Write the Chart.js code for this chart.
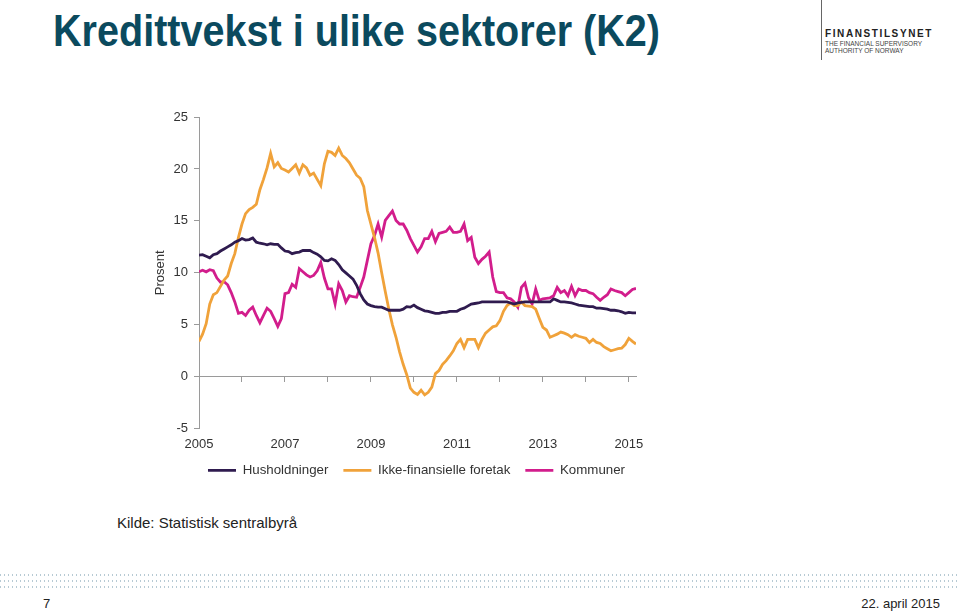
<!DOCTYPE html>
<html>
<head>
<meta charset="utf-8">
<script src="https://cdn.jsdelivr.net/npm/chart.js@4.4.1/dist/chart.umd.min.js"></script>
<style>
html,body{margin:0;padding:0;background:#fff;}
body{width:960px;height:611px;overflow:hidden;position:relative;font-family:"Liberation Sans",Arial,sans-serif;}
#title{position:absolute;left:53px;top:8px;font-size:45px;line-height:45px;font-weight:bold;color:#0b4a5e;white-space:nowrap;transform-origin:0 0;}
#logoLine{position:absolute;left:821px;top:0;width:1px;height:60px;background:#666;}
#logoName{position:absolute;left:825px;top:29px;font-size:10px;line-height:10px;font-weight:bold;letter-spacing:1.6px;color:#222;white-space:nowrap;}
#logoSub{position:absolute;left:825px;top:41px;font-size:6.5px;line-height:6.7px;color:#444;white-space:nowrap;}
#wrap{position:absolute;left:140px;top:100px;width:553px;height:387px;}
#source{position:absolute;left:117px;top:515px;font-size:15px;line-height:15px;color:#222;white-space:nowrap;}
.dots{position:absolute;left:0;width:960px;height:2px;background-image:linear-gradient(to right,#b7cad4 1.5px,transparent 1.5px);background-size:4px 2px;}
#page{position:absolute;left:43px;top:597px;font-size:13px;line-height:13px;color:#222;}
#date{position:absolute;right:20px;top:597px;font-size:13px;line-height:13px;color:#222;white-space:nowrap;}
</style>
</head>
<body>
<div id="title">Kredittvekst i ulike sektorer (K2)</div>
<div id="logoLine"></div>
<div id="logoName">FINANSTILSYNET</div>
<div id="logoSub">THE FINANCIAL SUPERVISORY<br>AUTHORITY OF NORWAY</div>
<div id="wrap"><canvas id="c"></canvas></div>
<div id="source">Kilde: Statistisk sentralbyrå</div>
<div class="dots" style="top:574px"></div>
<div class="dots" style="top:580px"></div>
<div class="dots" style="top:586px"></div>
<div id="page">7</div>
<div id="date">22. april 2015</div>
<script>
// Monthly data, Jan 2005 – Mar 2015
const startYear = 2005;
const seriesNames = ["Husholdninger", "Ikke-finansielle foretak", "Kommuner"];

const husholdninger = [
  11.7, 11.75, 11.6, 11.45, 11.75, 11.85, 12.1, 12.3, 12.5, 12.7, 12.95, 13.1,
  13.3, 13.15, 13.2, 13.35, 12.95, 12.85, 12.8, 12.7, 12.8, 12.75, 12.75, 12.4,
  12.1, 12.05, 11.85, 11.95, 12.0, 12.15, 12.15, 12.15, 11.95, 11.8, 11.55, 11.2,
  11.15, 11.35, 11.2, 10.8, 10.3, 10.0, 9.7, 9.4, 8.8, 8.0, 7.4, 7.0,
  6.85, 6.75, 6.7, 6.7, 6.55, 6.4, 6.4, 6.4, 6.4, 6.5, 6.75, 6.7,
  6.9, 6.65, 6.5, 6.35, 6.3, 6.2, 6.1, 6.1, 6.2, 6.2, 6.3, 6.3,
  6.3, 6.5, 6.6, 6.8, 7.0, 7.05, 7.1, 7.2, 7.2, 7.2, 7.2, 7.2,
  7.2, 7.2, 7.2, 7.1, 7.0, 7.1, 7.15, 7.2, 7.2, 7.2, 7.2, 7.2,
  7.2, 7.2, 7.2, 7.5, 7.35, 7.2, 7.2, 7.15, 7.1, 7.0, 6.9, 6.85,
  6.8, 6.75, 6.75, 6.6, 6.6, 6.55, 6.5, 6.4, 6.4, 6.35, 6.25, 6.1,
  6.2, 6.15, 6.15
];

const ikkeFinansielle = [
  3.4, 4.1, 5.1, 7.0, 7.9, 8.1, 8.7, 9.3, 9.7, 10.9, 11.85, 13.4,
  14.7, 15.7, 16.1, 16.3, 16.6, 18.0, 19.0, 20.1, 21.5, 20.2, 20.6, 20.05,
  19.9, 19.7, 20.05, 20.4, 19.6, 20.4, 20.1, 19.4, 19.6, 19.0, 18.4, 20.5,
  21.7, 21.6, 21.3, 22.0, 21.3, 21.0, 20.6, 20.0, 19.4, 19.1, 18.3, 16.0,
  14.7, 13.4, 11.9, 10.0, 8.2, 6.5, 5.0, 3.8, 2.4, 1.2, 0.2, -1.1,
  -1.5, -1.7, -1.3, -1.75, -1.5, -1.0, 0.3, 0.6, 1.2, 1.55, 2.0, 2.5,
  3.2, 3.6, 2.8, 3.6, 3.6, 3.6, 2.8, 3.6, 4.2, 4.5, 4.8, 4.9,
  5.4, 6.3, 6.85, 7.1, 6.85, 6.85, 7.2, 6.85, 6.8, 6.75, 6.5, 5.6,
  4.75, 4.5, 3.8, 3.95, 4.1, 4.3, 4.2, 4.05, 3.8, 4.05, 3.9, 3.8,
  3.7, 3.3, 3.6, 3.3, 3.2, 2.9, 2.7, 2.5, 2.6, 2.7, 2.75, 3.1,
  3.7, 3.4, 3.15
];

const kommuner = [
  10.1, 10.25, 10.1, 10.3, 10.2, 9.5, 9.1, 9.15, 8.85, 8.1, 7.2, 6.1,
  6.2, 5.9, 6.4, 6.7, 5.9, 5.2, 5.9, 6.6, 6.3, 5.6, 4.85, 5.6,
  8.0, 8.1, 8.9, 8.6, 10.4, 10.1, 9.8, 9.6, 9.75, 10.2, 11.0, 9.5,
  8.45, 8.45, 7.0, 8.95, 8.3, 7.2, 7.8, 7.7, 7.65, 8.6, 9.6, 11.2,
  12.8, 13.6, 14.7, 13.45, 15.05, 15.5, 15.95, 15.05, 14.7, 14.7, 14.1, 13.3,
  12.65, 12.0, 12.5, 13.3, 13.3, 14.0, 13.0, 13.8, 13.9, 14.0, 14.4, 13.9,
  13.9, 14.0, 14.7, 13.1, 13.4, 11.5, 10.9, 11.3, 11.6, 12.0, 9.6, 8.2,
  8.1, 8.1, 7.6, 7.5, 7.2, 6.7, 8.6, 9.0, 7.6, 7.0, 8.45, 7.35,
  7.5, 7.55, 7.6, 7.8, 8.6, 8.1, 8.3, 7.8, 8.7, 7.8, 8.45, 8.3,
  8.3, 8.1, 8.0, 7.65, 7.35, 7.65, 7.9, 8.45, 8.3, 8.2, 8.1, 7.8,
  8.1, 8.4, 8.5
];

const xLabelYears = [2005, 2007, 2009, 2011, 2013, 2015];
const xTickYears = [2005, 2006, 2007, 2008, 2009, 2010, 2011, 2012, 2013, 2014, 2015];
const yTickValues = [-5, 0, 5, 10, 15, 20, 25];
const yTitle = "Prosent";

// scale title to reference width
const t = document.getElementById('title');
const tw = t.getBoundingClientRect().width;
t.style.transform = 'scaleX(' + (607 / tw) + ')';

const toPoints = arr => arr.map((v, i) => ({ x: startYear + i / 12, y: v }));
const xMax = startYear + (husholdninger.length - 1) / 12;
const colors = ["#2f1b4f", "#f0a23a", "#d21d8c"];
const FONT = "'Liberation Sans', Arial, sans-serif";
Chart.defaults.font.family = FONT;
Chart.defaults.color = '#333';

new Chart(document.getElementById('c'), {
  type: 'line',
  data: {
    datasets: [husholdninger, ikkeFinansielle, kommuner].map((arr, i) => ({
      label: seriesNames[i],
      data: toPoints(arr),
      borderColor: colors[i],
      backgroundColor: colors[i],
      borderWidth: 2.8,
      pointRadius: 0,
      pointHoverRadius: 0,
      tension: 0,
      fill: false,
      xAxisID: 'x',
      yAxisID: 'y'
    }))
  },
  options: {
    responsive: true,
    maintainAspectRatio: false,
    animation: false,
    layout: { padding: { top: 17, left: 0, right: 0, bottom: 0 } },
    plugins: {
      tooltip: { enabled: false },
      legend: {
        display: true,
        position: 'bottom',
        labels: {
          usePointStyle: true,
          pointStyle: 'line',
          pointStyleWidth: 28,
          boxHeight: 13,
          padding: 15,
          color: '#333',
          font: { size: 13.3, family: FONT }
        }
      }
    },
    scales: {
      x: {
        type: 'linear',
        position: 'bottom',
        min: startYear,
        max: xMax,
        border: { display: false },
        grid: { display: false, drawTicks: false },
        ticks: { color: '#333', font: { size: 13 }, padding: 8, maxRotation: 0, autoSkip: false,
                 callback: v => String(v) },
        afterBuildTicks: s => { s.ticks = xLabelYears.map(v => ({ value: v })); },
        afterFit: s => { s.height = 20; }
      },
      x0: {
        type: 'linear',
        axis: 'x',
        position: { y: 0 },
        min: startYear,
        max: xMax,
        border: { display: true, color: '#9a9a9a', width: 1 },
        grid: { display: true, drawOnChartArea: false, drawTicks: true, tickLength: 5, color: '#9a9a9a' },
        ticks: { display: false },
        afterBuildTicks: s => { s.ticks = xTickYears.map(v => ({ value: v })); }
      },
      y: {
        type: 'linear',
        position: 'left',
        min: -5,
        max: 25,
        border: { display: true, color: '#9a9a9a', width: 1 },
        grid: { display: true, drawOnChartArea: false, drawTicks: true, tickLength: 5, color: '#9a9a9a' },
        ticks: { color: '#333', font: { size: 13 }, padding: 6 },
        afterBuildTicks: s => { s.ticks = yTickValues.map(v => ({ value: v })); },
        title: { display: true, text: yTitle, color: '#333', font: { size: 13 }, padding: { top: 13, bottom: 0 } },
        afterFit: s => { s.width = 59; }
      },
      yR: {
        type: 'linear',
        axis: 'y',
        position: 'right',
        min: -5,
        max: 25,
        border: { display: false },
        grid: { display: false, drawTicks: false },
        ticks: { display: false },
        afterFit: s => { s.width = 57; }
      }
    }
  }
});
</script>
</body>
</html>
